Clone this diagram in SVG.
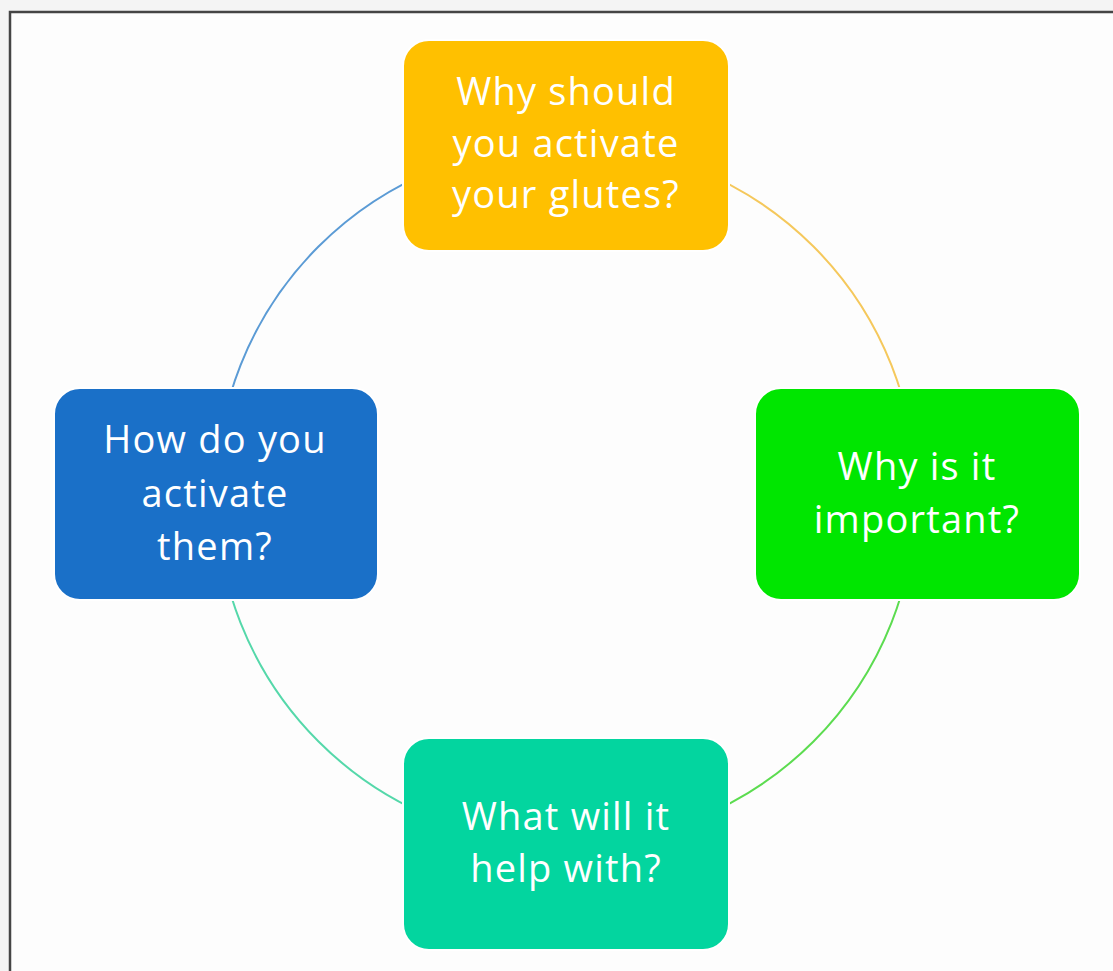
<svg xmlns="http://www.w3.org/2000/svg" width="1113" height="971" viewBox="0 0 1113 971">
  <style>
    .box { stroke: #ffffff; stroke-width: 2; }
    .lbl { font-family: "Open Sans", "Liberation Sans", sans-serif; font-size: 38px; fill: #ffffff; text-anchor: middle; letter-spacing: 1.2px; }
    .arc { fill: none; stroke-width: 2; }
  </style>
  <rect x="0" y="0" width="1113" height="971" fill="#f4f4f4"/>
  <rect x="10" y="12" width="1110" height="970" fill="#fdfdfd" stroke="#454545" stroke-width="2.5"/>
  <g id="connectors">
    <path class="arc" d="M 566 144 A 350 350 0 0 1 916 494" stroke="#f5c85c"/>
    <path class="arc" d="M 916 494 A 350 350 0 0 1 566 844" stroke="#5cdc50"/>
    <path class="arc" d="M 566 844 A 350 350 0 0 1 216 494" stroke="#55d8aa"/>
    <path class="arc" d="M 216 494 A 350 350 0 0 1 566 144" stroke="#5b9bd5"/>
  </g>
  <g id="node-top">
    <rect class="box" x="403" y="40" width="326" height="211" rx="26" fill="#ffc000"/>
    <text class="lbl" x="566" y="105">Why should</text>
    <text class="lbl" x="566" y="157">you activate</text>
    <text class="lbl" x="566" y="208">your glutes?</text>
  </g>
  <g id="node-right">
    <rect class="box" x="755" y="388" width="325" height="212" rx="26" fill="#00e600"/>
    <text class="lbl" x="917" y="480">Why is it</text>
    <text class="lbl" x="917" y="533">important?</text>
  </g>
  <g id="node-bottom">
    <rect class="box" x="403" y="738" width="326" height="212" rx="26" fill="#03d59f"/>
    <text class="lbl" x="566" y="830">What will it</text>
    <text class="lbl" x="566" y="882">help with?</text>
  </g>
  <g id="node-left">
    <rect class="box" x="54" y="388" width="324" height="212" rx="26" fill="#1a70c8"/>
    <text class="lbl" x="215" y="453">How do you</text>
    <text class="lbl" x="215" y="507">activate</text>
    <text class="lbl" x="215" y="560">them?</text>
  </g>
</svg>
